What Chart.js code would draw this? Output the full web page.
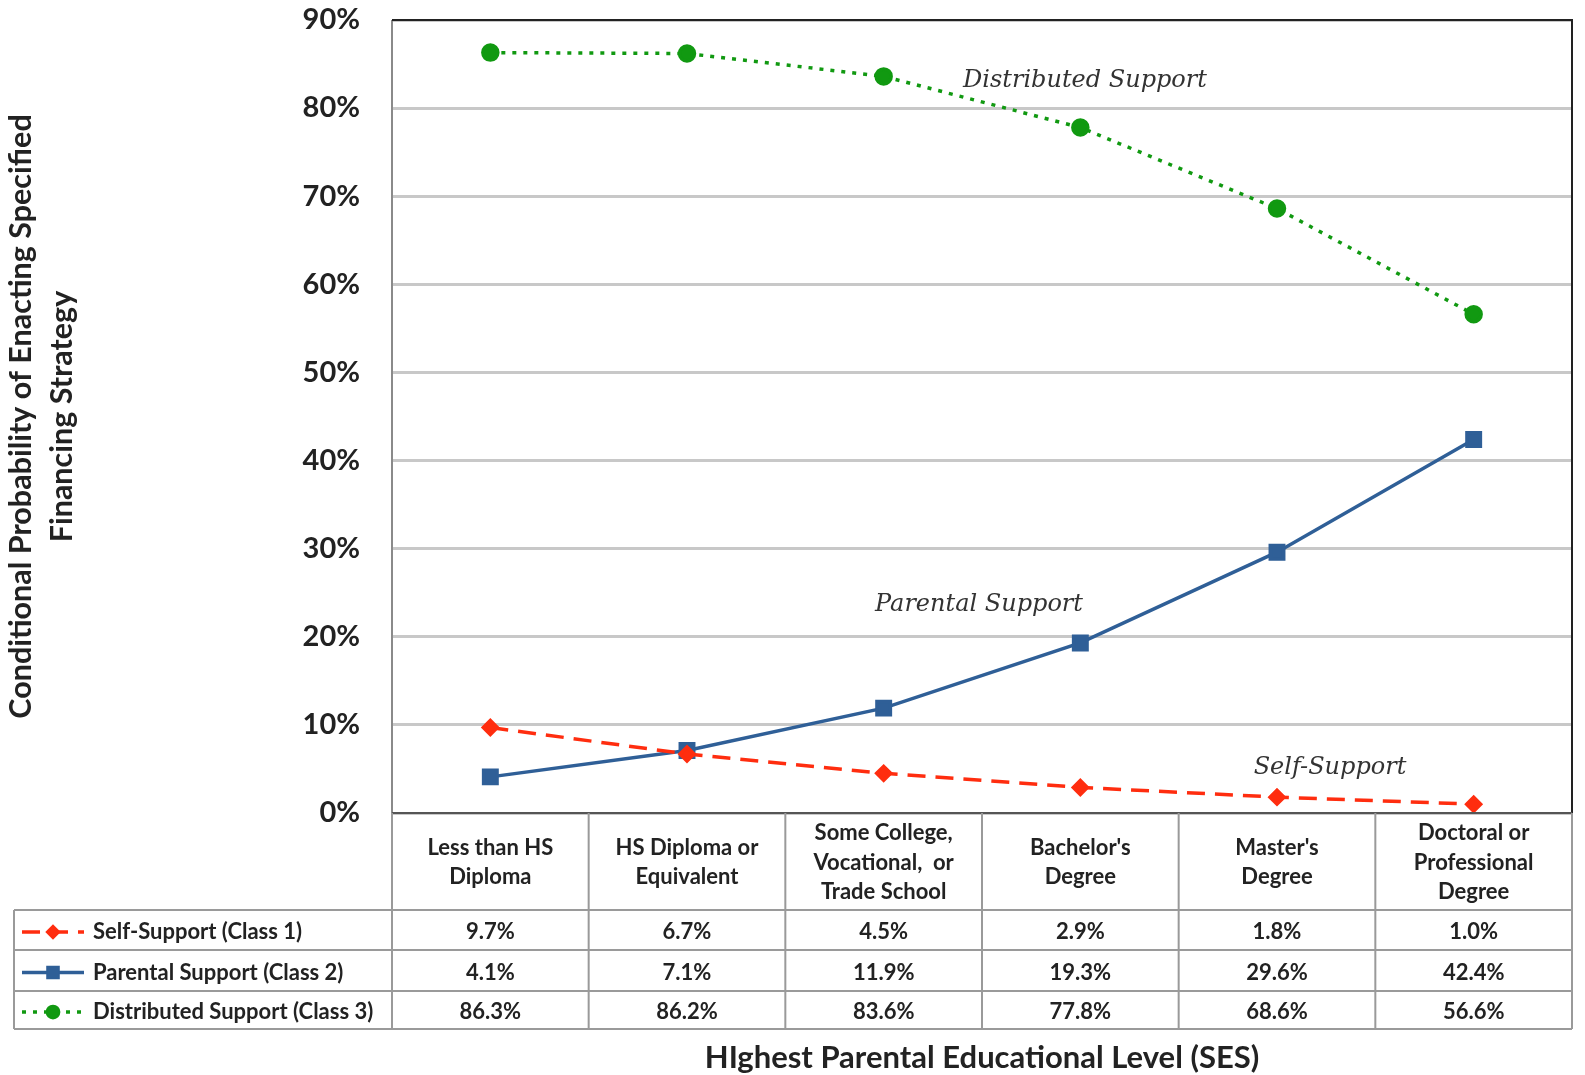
<!DOCTYPE html>
<html>
<head>
<meta charset="utf-8">
<script src="https://cdn.jsdelivr.net/npm/chart.js@4/dist/chart.umd.min.js"></script>
<style>
	html, body { margin: 0; padding: 0; background: #fff; }
	#wrap { width: 1585px; height: 1075px; }
</style>
</head>
<body>
<div id="wrap"><canvas id="chart" width="1585" height="1075"></canvas></div>
<script>
(function () {

	'use strict';

	// categories (one array of lines per cell)
	var categories = [
		['Less than HS', 'Diploma'],
		['HS Diploma or', 'Equivalent'],
		['Some College,', 'Vocational,  or', 'Trade School'],
		["Bachelor's", 'Degree'],
		["Master's", 'Degree'],
		['Doctoral or', 'Professional', 'Degree']
	];

	var selfSupport      = [9.7, 6.7, 4.5, 2.9, 1.8, 1.0];
	var parentalSupport  = [4.1, 7.1, 11.9, 19.3, 29.6, 42.4];
	var distributed      = [86.3, 86.2, 83.6, 77.8, 68.6, 56.6];

	var seriesNames = ['Self-Support (Class 1)', 'Parental Support (Class 2)', 'Distributed Support (Class 3)'];
	var curveLabels = ['Self-Support', 'Parental Support', 'Distributed Support'];

	var yTicks = [0, 10, 20, 30, 40, 50, 60, 70, 80, 90];
	var yTitle = ['Conditional Probability of Enacting Specified', 'Financing Strategy'];
	var xTitle = 'HIghest Parental Educational Level (SES)';

	var RED   = '#ff2d0f';
	var BLUE  = '#2f5f97';
	var GREEN = '#119911';
	var FONT  = 'Lato, "Open Sans", sans-serif';

	Chart.defaults.font.family = FONT;

	// table under the plot + curve labels + frame
	var tablePlugin = {
		id: 'dataTable',
		afterDraw: function(chart) {
			var ctx = chart.ctx;
			var area = chart.chartArea;
			var x = chart.scales.x;
			var n = categories.length;
			var colW = (area.right - area.left) / n;
			var tableLeft = 14;
			var headBottom = 910;
			var rows = [910, 950, 991, 1029];
			var datasets = chart.data.datasets;

			ctx.save();

			// plot frame
			ctx.strokeStyle = '#8a8a8a';
			ctx.lineWidth = 2;
			ctx.beginPath();
			ctx.moveTo(area.left, area.bottom);
			ctx.lineTo(area.left, area.top);
			ctx.stroke();
			ctx.strokeStyle = '#222';
			ctx.beginPath();
			ctx.moveTo(area.left, area.top);
			ctx.lineTo(area.right, area.top);
			ctx.lineTo(area.right, area.bottom);
			ctx.stroke();
			ctx.strokeStyle = '#555';
			ctx.beginPath();
			ctx.moveTo(area.left, area.bottom);
			ctx.lineTo(area.right, area.bottom);
			ctx.stroke();

			// table grid
			ctx.strokeStyle = '#9a9a9a';
			ctx.lineWidth = 2;
			ctx.beginPath();
			for (var i = 0; i <= n; i++) {
				var bx = area.left + i * colW;
				ctx.moveTo(bx, area.bottom);
				ctx.lineTo(bx, rows[rows.length - 1]);
			}
			ctx.moveTo(tableLeft, rows[0]);
			ctx.lineTo(tableLeft, rows[rows.length - 1]);
			rows.forEach(function(ry) {
				ctx.moveTo(tableLeft, ry);
				ctx.lineTo(area.right, ry);
			});
			ctx.stroke();

			// header labels
			ctx.fillStyle = '#222';
			ctx.textAlign = 'center';
			ctx.textBaseline = 'middle';
			ctx.font = 'bold 22px ' + FONT;
			var headMid = (area.bottom + headBottom) / 2 + 1;
			categories.forEach(function(lines, i) {
				var cx = x.getPixelForValue(i);
				var lh = 29.5;
				var y0 = headMid - (lines.length - 1) * lh / 2;
				lines.forEach(function(t, j) {
					ctx.fillText(t, cx, y0 + j * lh);
				});
			});

			// data rows
			datasets.forEach(function(ds, r) {
				var cy = (rows[r] + rows[r + 1]) / 2 + 2;
				ds.data.forEach(function(v, i) {
					ctx.textAlign = 'center';
					ctx.fillStyle = '#222';
					ctx.fillText(v.toFixed(1) + '%', x.getPixelForValue(i), cy);
				});

				// legend swatch
				ctx.save();
				ctx.strokeStyle = ds.borderColor;
				ctx.lineWidth = ds.borderWidth;
				ctx.setLineDash(ds.borderDash || []);
				ctx.beginPath();
				ctx.moveTo(22, cy);
				ctx.lineTo(84, cy);
				ctx.stroke();
				ctx.setLineDash([]);
				Chart.helpers.drawPoint(ctx, {
					pointStyle: ds.pointStyle,
					radius: ds.pointRadius * 0.75,
					borderWidth: 1,
					rotation: 0
				}, 53, cy);
				ctx.fillStyle = ds.pointBackgroundColor;
				ctx.strokeStyle = ds.pointBackgroundColor;
				ctx.fill();
				ctx.restore();

				ctx.textAlign = 'left';
				ctx.fillStyle = '#222';
				ctx.fillText(seriesNames[r], 93, cy);
			});

			// x axis title
			ctx.textAlign = 'center';
			ctx.fillStyle = '#222';
			ctx.font = 'bold 31px ' + FONT;
			ctx.fillText(xTitle, (area.left + area.right) / 2, 1058);

			// curve labels
			ctx.font = 'italic 24px "DejaVu Serif", "Liberation Serif", serif';
			ctx.fillStyle = '#333';
			ctx.fillText(curveLabels[2], 1085, 81);
			ctx.fillText(curveLabels[1], 979, 605);
			ctx.fillText(curveLabels[0], 1330, 768);

			ctx.restore();
		}
	};

	var chart = new Chart(document.getElementById('chart'), {

		type: 'line',
		data: {
			labels: categories.map(function(c) { return c.join(' '); }),
			datasets: [{
				label: seriesNames[0],
				data: selfSupport,
				borderColor: RED,
				backgroundColor: RED,
				pointBackgroundColor: RED,
				pointBorderColor: RED,
				borderWidth: 3.5,
				borderDash: [18, 10],
				pointStyle: 'rectRot',
				pointRadius: 7
			}, {
				label: seriesNames[1],
				data: parentalSupport,
				borderColor: BLUE,
				backgroundColor: BLUE,
				pointBackgroundColor: BLUE,
				pointBorderColor: BLUE,
				borderWidth: 3.5,
				pointStyle: 'rect',
				pointRadius: 9.5
			}, {
				label: seriesNames[2],
				data: distributed,
				borderColor: GREEN,
				backgroundColor: GREEN,
				pointBackgroundColor: GREEN,
				pointBorderColor: GREEN,
				borderWidth: 3.5,
				borderDash: [4, 7],
				pointStyle: 'circle',
				pointRadius: 7.5
			}]
		},
		options: {
			responsive: false,
			animation: false,
			layout: { padding: { left: 0, top: 20, right: 7, bottom: 262 } },
			plugins: {
				legend: { display: false },
				tooltip: { enabled: false }
			},
			scales: {
				x: {
					offset: true,
					grid: { display: false },
					border: { display: false },
					ticks: { display: false },
					afterFit: function(s) { s.height = 0; }
				},
				y: {
					min: 0,
					max: 90,
					afterFit: function(s) {
						s.width = 392;
						s.paddingTop = 0;
						s.paddingBottom = 0;
					},
					afterBuildTicks: function(s) {
						s.ticks = yTicks.map(function(v) { return { value: v }; });
					},
					ticks: {
						padding: 32,
						color: '#222',
						font: { size: 29, weight: 'bold' },
						callback: function(v) { return v + '%'; }
					},
					grid: {
						color: '#c8c8c8',
						lineWidth: 3,
						drawTicks: false
					},
					border: { display: false },
					title: {
						display: true,
						text: yTitle,
						color: '#222',
						font: { size: 30.5, weight: 'bold', lineHeight: 1.34 },
						padding: { top: 1, bottom: 0 }
					}
				}
			}
		},
		plugins: [tablePlugin]
	});

})();
</script>
</body>
</html>
